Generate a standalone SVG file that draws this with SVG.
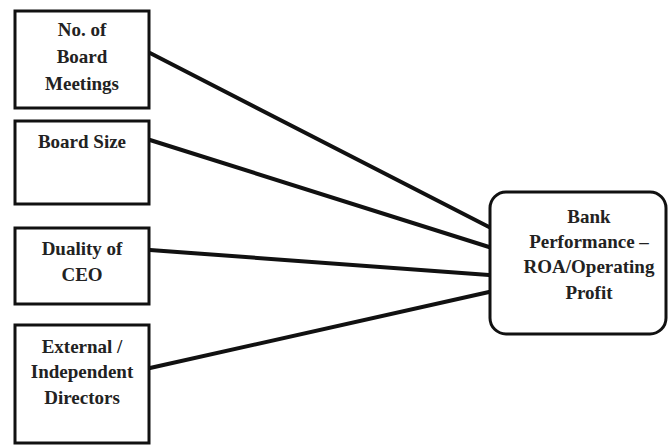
<svg xmlns="http://www.w3.org/2000/svg" width="668" height="446" viewBox="0 0 668 446">
<style>
.box{fill:#fff;stroke:#111;stroke-width:3}
.lbl{font-family:'Liberation Serif','DejaVu Serif',serif;font-weight:700;font-size:19px;fill:#222;text-anchor:middle}
.con{stroke:#111;stroke-width:4;fill:none;stroke-linecap:round}
</style>
<rect width="668" height="446" fill="#fff"/>
<g id="connectors">
<line class="con" x1="150" y1="53" x2="489" y2="227"/>
<line class="con" x1="150" y1="140" x2="489" y2="247"/>
<line class="con" x1="150" y1="250" x2="489" y2="275"/>
<line class="con" x1="150" y1="368" x2="489" y2="292"/>
</g>
<g id="n1">
<rect class="box" x="15" y="11" width="134" height="97"/>
<text class="lbl" x="82" y="36">No. of</text>
<text class="lbl" x="82" y="63">Board</text>
<text class="lbl" x="82" y="90">Meetings</text>
</g>
<g id="n2">
<rect class="box" x="15" y="121" width="134" height="83"/>
<text class="lbl" x="82" y="148">Board Size</text>
</g>
<g id="n3">
<rect class="box" x="15" y="228" width="134" height="76"/>
<text class="lbl" x="82" y="255">Duality of</text>
<text class="lbl" x="82" y="281">CEO</text>
</g>
<g id="n4">
<rect class="box" x="15" y="325" width="134" height="118"/>
<text class="lbl" x="82" y="353">External /</text>
<text class="lbl" x="82" y="378">Independent</text>
<text class="lbl" x="82" y="404">Directors</text>
</g>
<g id="n5">
<rect class="box" x="490" y="192" width="176" height="142" rx="16" ry="16"/>
<text class="lbl" x="589" y="223">Bank</text>
<text class="lbl" x="589" y="248">Performance –</text>
<text class="lbl" x="589" y="273">ROA/Operating</text>
<text class="lbl" x="589" y="299">Profit</text>
</g>
</svg>
